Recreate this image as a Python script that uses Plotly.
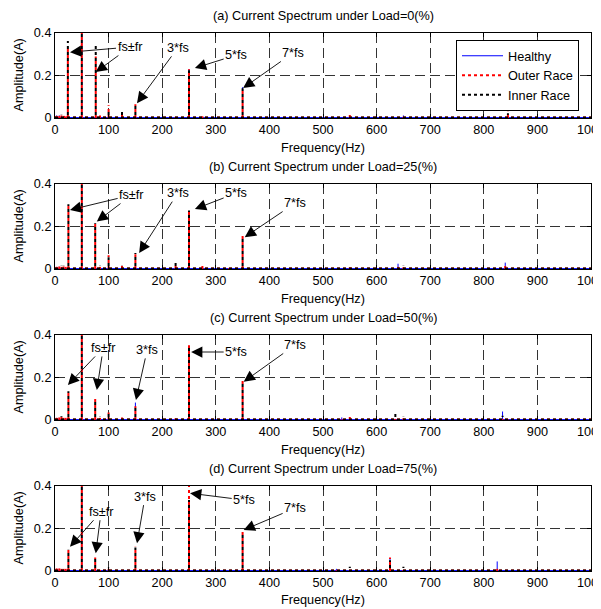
import plotly.graph_objects as go

# ---------------- data ----------------
loads = ["0", "25", "50", "75"]
tick_x = [0, 100, 200, 300, 400, 500, 600, 700, 800, 900, 1000]
tick_x_text = ["0", "100", "200", "300", "400", "500", "600", "700", "800", "900", "1000"]
tick_y = [0, 0.2, 0.4]
tick_y_text = ["0", "0.2", "0.4"]
baseline = 0.002

freqs_a = [3, 8, 12, 17, 21, 24, 50, 76, 84, 100, 125, 150, 225, 250, 275, 350, 550, 650, 845]
healthy_a = [0.012, 0.012, 0.01, 0.008, 0.005, 0.005, 0.45, 0.005, 0.003, 0.005, 0.005, 0.01, 0.003, 0.23, 0.003, 0.145, 0.003, 0.012, 0.005]
outer_a = [0.01, 0.01, 0.012, 0.01, 0.008, 0.335, 0.45, 0.29, 0.012, 0.06, 0.02, 0.065, 0.005, 0.23, 0.008, 0.14, 0.015, 0.005, 0.03]
inner_a = [0.012, 0.01, 0.015, 0.01, 0.01, 0.362, 0.45, 0.339, 0.008, 0.04, 0.03, 0.065, 0.012, 0.225, 0.004, 0.14, 0.008, 0.006, 0.022]

freqs_b = [3, 8, 12, 16, 20, 25, 50, 75, 84, 100, 125, 150, 225, 250, 275, 325, 350, 550, 640, 650, 840]
healthy_b = [0.01, 0.01, 0.008, 0.008, 0.005, 0.005, 0.45, 0.005, 0.003, 0.004, 0.004, 0.01, 0.003, 0.27, 0.003, 0.003, 0.15, 0.005, 0.025, 0.005, 0.03]
outer_b = [0.01, 0.012, 0.01, 0.012, 0.01, 0.31, 0.45, 0.225, 0.01, 0.065, 0.02, 0.07, 0.025, 0.28, 0.015, 0.005, 0.155, 0.008, 0.01, 0.008, 0.02]
inner_b = [0.012, 0.01, 0.015, 0.015, 0.012, 0.305, 0.45, 0.215, 0.015, 0.055, 0.015, 0.075, 0.03, 0.275, 0.008, 0.012, 0.15, 0.012, 0.01, 0.015, 0.012]

freqs_c = [3, 8, 12, 16, 20, 25, 50, 75, 84, 100, 125, 150, 225, 250, 350, 535, 550, 635, 650, 835, 845]
healthy_c = [0.01, 0.008, 0.008, 0.008, 0.005, 0.005, 0.45, 0.005, 0.003, 0.005, 0.003, 0.082, 0.003, 0.34, 0.175, 0.012, 0.003, 0.005, 0.003, 0.04, 0.003]
outer_c = [0.01, 0.012, 0.015, 0.01, 0.01, 0.14, 0.45, 0.1, 0.01, 0.035, 0.012, 0.065, 0.008, 0.352, 0.184, 0.003, 0.015, 0.005, 0.008, 0.005, 0.003]
inner_c = [0.012, 0.01, 0.018, 0.012, 0.01, 0.135, 0.45, 0.095, 0.015, 0.03, 0.01, 0.06, 0.01, 0.345, 0.18, 0.003, 0.005, 0.04, 0.015, 0.02, 0.005]

freqs_d = [3, 8, 12, 16, 20, 25, 50, 75, 84, 100, 150, 250, 350, 525, 550, 625, 650, 825]
healthy_d = [0.01, 0.01, 0.008, 0.008, 0.005, 0.005, 0.45, 0.005, 0.003, 0.005, 0.005, 0.33, 0.17, 0.01, 0.003, 0.06, 0.003, 0.045]
outer_d = [0.012, 0.012, 0.01, 0.01, 0.01, 0.104, 0.45, 0.064, 0.005, 0.01, 0.114, 0.45, 0.195, 0.003, 0.005, 0.064, 0.005, 0.01]
inner_d = [0.012, 0.01, 0.012, 0.01, 0.012, 0.1, 0.45, 0.06, 0.01, 0.015, 0.11, 0.334, 0.17, 0.003, 0.02, 0.05, 0.02, 0.01]

# annotations: (label, text_x, text_y, [(head_x, head_y), ...])
annot_a = [("fs\u00b1fr", 140, 0.334, [(28, 0.31), (76, 0.216)]),
           ("3*fs", 229, 0.33, [(153, 0.07)]),
           ("5*fs", 338, 0.296, [(261, 0.235)]),
           ("7*fs", 444, 0.306, [(351, 0.141)])]
annot_b = [("fs\u00b1fr", 143, 0.348, [(28, 0.278), (78, 0.223)]),
           ("3*fs", 229, 0.357, [(157, 0.075)]),
           ("5*fs", 338, 0.357, [(261, 0.282)]),
           ("7*fs", 448, 0.31, [(354, 0.15)])]
annot_c = [("fs\u00b1fr", 90, 0.339, [(24, 0.165), (78, 0.141)]),
           ("3*fs", 172, 0.33, [(151, 0.094)]),
           ("5*fs", 338, 0.32, [(254, 0.32)]),
           ("7*fs", 448, 0.353, [(352, 0.18)])]
annot_d = [("fs\u00b1fr", 86, 0.279, [(28, 0.114), (76, 0.083)]),
           ("3*fs", 168, 0.35, [(153, 0.13)]),
           ("5*fs", 353, 0.334, [(252, 0.366)]),
           ("7*fs", 448, 0.296, [(352, 0.193)])]

panels = [
    (freqs_a, healthy_a, outer_a, inner_a, annot_a),
    (freqs_b, healthy_b, outer_b, inner_b, annot_b),
    (freqs_c, healthy_c, outer_c, inner_c, annot_c),
    (freqs_d, healthy_d, outer_d, inner_d, annot_d),
]

series_names = ["Healthy", "Outer Race", "Inner Race"]
series_colors = ["#0000ff", "#ff0000", "#000000"]
series_dash = ["solid", "3px,3px", "3px,3px"]
series_width = [1, 2, 2]
# stem start below the axis (clipped) so that the dotted patterns interleave
series_start = [0.0, 0.0, -0.0141]

# ---------------- layout geometry (window pixels; page body has 8px margin) ----------------
OFF = 8
WIN_W, WIN_H = 601, 609
W, H = WIN_W - OFF, WIN_H - OFF
x0px, x1px = 55 - OFF, 591 - OFF
panel_px = [(33, 118), (184, 269), (335, 420), (486, 571)]
panel_px = [(t - OFF, b - OFF) for t, b in panel_px]
title_px = [v - OFF for v in [16, 167, 318, 469]]
xlabel_px = [v - OFF for v in [148, 299, 450, 600]]
ylabel_x = 18 - OFF

FONT = "Arial, Liberation Sans, sans-serif"
FS = 12.7


def stem_line(freqs, amps, start):
    xs, ys = [0, 1000, None], [baseline, baseline, None]
    for f, a in sorted(zip(freqs, amps)):
        xs += [f, f, None]
        ys += [start, a, None]
    return xs, ys


fig = go.Figure()
annotations = []

for i, (fr, h, o, inn, ann) in enumerate(panels):
    k = "" if i == 0 else str(i + 1)
    xa, ya = "x" + k, "y" + k
    for j, amps in enumerate([h, o, inn]):
        xs, ys = stem_line(fr, amps, series_start[j])
        fig.add_trace(go.Scatter(
            x=xs, y=ys, mode="lines", name=series_names[j], connectgaps=False,
            line=dict(color=series_colors[j], width=series_width[j], dash=series_dash[j]),
            xaxis=xa, yaxis=ya, showlegend=(i == 0), hoverinfo="skip"))

    top, bot = panel_px[i]
    dom = [1 - bot / H, 1 - top / H]
    axis_common = dict(showline=True, linecolor="black", linewidth=1, mirror="ticks",
                       ticks="inside", ticklen=4, tickcolor="black", tickwidth=1,
                       showgrid=True, gridcolor="#333333", gridwidth=1, griddash="10px,5px",
                       zeroline=False, automargin=False, ticklabeloverflow="allow",
                       tickfont=dict(family=FONT, size=FS, color="black"))
    fig.layout["xaxis" + k] = dict(axis_common, domain=[x0px / W, x1px / W], range=[0, 1000],
                                   tickvals=tick_x, ticktext=tick_x_text, anchor=ya)
    fig.layout["yaxis" + k] = dict(axis_common, domain=dom, range=[0, 0.4],
                                   tickvals=tick_y, ticktext=tick_y_text, anchor=xa)

    annotations.append(dict(text="(%s) Current Spectrum under Load=%s(%%)" % ("abcd"[i], loads[i]),
                            xref="paper", yref="paper", x=(x0px + x1px) / 2 / W, y=1 - title_px[i] / H,
                            xanchor="center", yanchor="middle", showarrow=False,
                            font=dict(family=FONT, size=FS, color="black")))
    annotations.append(dict(text="Frequency(Hz)", xref="paper", yref="paper",
                            x=(x0px + x1px) / 2 / W, y=1 - xlabel_px[i] / H,
                            xanchor="center", yanchor="middle", showarrow=False,
                            font=dict(family=FONT, size=FS, color="black")))
    annotations.append(dict(text="Amplitude(A)", xref="paper", yref="paper",
                            x=ylabel_x / W, y=1 - (top + bot) / 2 / H, textangle=-90,
                            xanchor="center", yanchor="middle", showarrow=False,
                            font=dict(family=FONT, size=FS, color="black")))
    for label, tx, ty, heads in ann:
        for m, (hx, hy) in enumerate(heads):
            annotations.append(dict(
                text=label, x=hx, y=hy, ax=tx, ay=ty, xref=xa, yref=ya, axref=xa, ayref=ya,
                showarrow=True, arrowhead=2, arrowsize=2.5, arrowwidth=0.9, arrowcolor="black",
                standoff=0, startstandoff=0,
                font=dict(family=FONT, size=FS, color="black" if m == 0 else "rgba(0,0,0,0)")))

fig.update_layout(
    width=W, height=H, margin=dict(l=0, r=0, t=0, b=0, autoexpand=False),
    paper_bgcolor="white", plot_bgcolor="white",
    annotations=annotations,
    legend=dict(x=(456 - OFF) / W, y=1 - (40 - OFF) / H, xanchor="left", yanchor="top",
                bordercolor="black", borderwidth=1, bgcolor="white", itemwidth=41,
                font=dict(family=FONT, size=FS, color="black"), tracegroupgap=0),
)

fig.write_html("out.html")
